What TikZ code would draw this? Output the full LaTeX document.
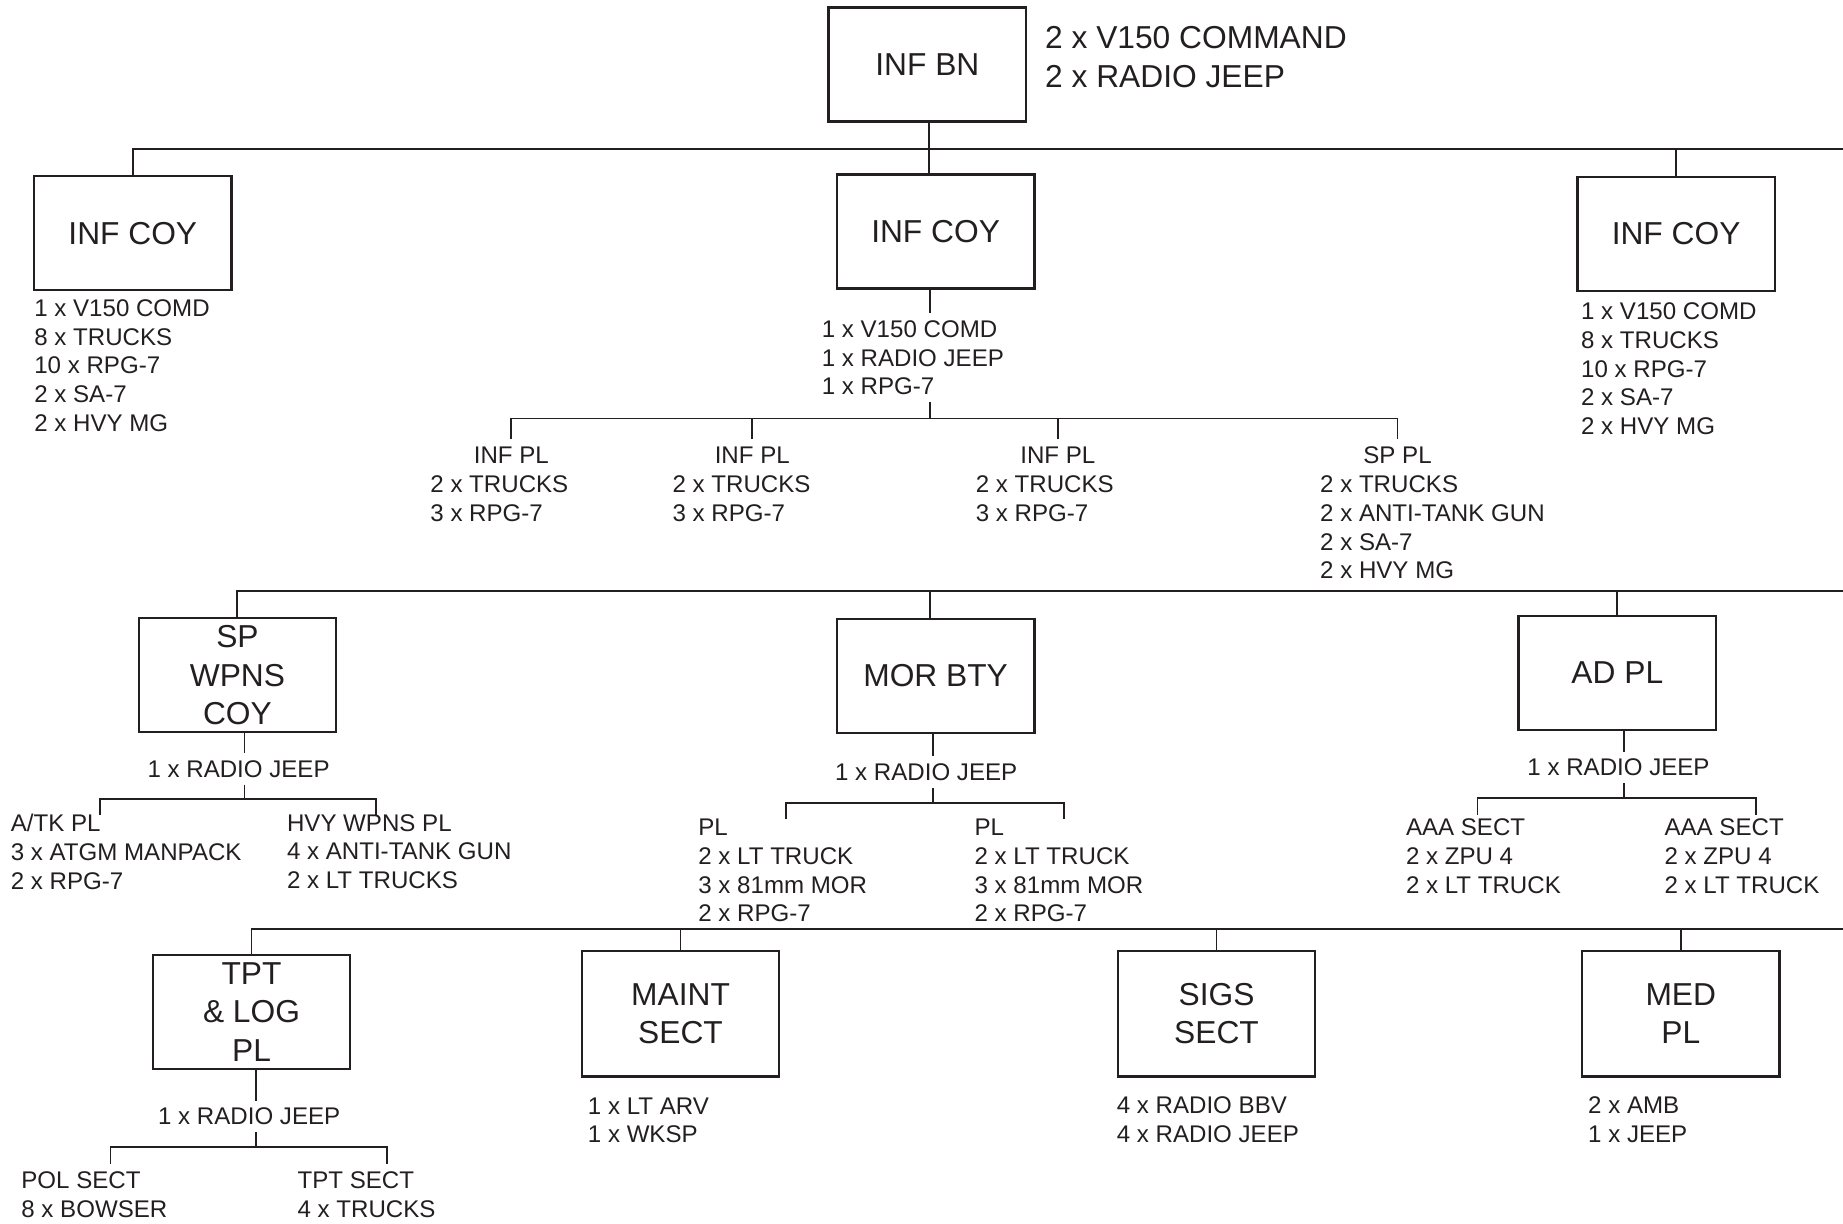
\documentclass[tikz,border=0pt]{standalone}
\usepackage{fontspec}
\setmainfont{Liberation Sans}
\usetikzlibrary{positioning}
\definecolor{ink}{RGB}{35,31,32}

\begin{document}
\begin{tikzpicture}[
        x=1pt, y=-1pt,
        unit/.style={draw=ink, line width=2pt, minimum width=168pt, minimum height=97pt, inner sep=0pt, align=center, text=ink, font=\fontsize{27}{32.5}\selectfont},
        tall/.style={unit, minimum height=107pt},
        note/.style={anchor=north west, inner sep=0pt, align=left, text=ink, font=\fontsize{27}{33}\selectfont},
        kit/.style={anchor=north west, inner xsep=0pt, inner ysep=6pt, yshift=13.3pt, align=left, text=ink, font=\fontsize{20.5}{24.4}\selectfont},
        tag/.style={inner xsep=0pt, inner ysep=6pt, text=ink, font=\fontsize{20.5}{24.4}\selectfont},
        link/.style={draw=ink, line width=1.6pt}
    ]
        \useasboundingbox (0,0) rectangle (1568,1041);

        \node[unit] (bn) at (789,55) {INF BN};
        \node[note] (bnkit) at (889,22.3) {2 x V150 COMMAND\\2 x RADIO JEEP};

        \node[unit] (coy1) at (113,198.5) {INF COY};
        \node[unit] (coy2) at (796,197) {INF COY};
        \node[unit] (coy3) at (1426,199) {INF COY};

        \node[kit] (coy1kit) at (29,262) {1 x V150 COMD\\8 x TRUCKS\\10 x RPG-7\\2 x SA-7\\2 x HVY MG};
        \node[kit] (coy2kit) at (699,280) {1 x V150 COMD\\1 x RADIO JEEP\\1 x RPG-7};
        \node[kit] (coy3kit) at (1345,265) {1 x V150 COMD\\8 x TRUCKS\\10 x RPG-7\\2 x SA-7\\2 x HVY MG};

        \node[tag] (pl1) at (435,387) {INF PL};
        \node[tag] (pl2) at (640,387) {INF PL};
        \node[tag] (pl3) at (900,387) {INF PL};
        \node[tag] (pl4) at (1189,387) {SP PL};
        \node[kit] (pl1kit) at (366,412) {2 x TRUCKS\\3 x RPG-7};
        \node[kit] (pl2kit) at (572,412) {2 x TRUCKS\\3 x RPG-7};
        \node[kit] (pl3kit) at (830,412) {2 x TRUCKS\\3 x RPG-7};
        \node[kit] (pl4kit) at (1123,412) {2 x TRUCKS\\2 x ANTI-TANK GUN\\2 x SA-7\\2 x HVY MG};

        \node[unit] (spw) at (202,574.5) {SP\\WPNS\\COY};
        \node[unit] (mor) at (796,575) {MOR BTY};
        \node[unit] (adp) at (1376,572.5) {AD PL};

        \node[tag] (spwjeep) at (203,654) {1 x RADIO JEEP};
        \node[kit] (atk) at (9,700) {A/TK PL\\3 x ATGM MANPACK\\2 x RPG-7};
        \node[kit] (hvy) at (244,700) {HVY WPNS PL\\4 x ANTI-TANK GUN\\2 x LT TRUCKS};

        \node[tag] (morjeep) at (788,657) {1 x RADIO JEEP};
        \node[kit] (mor1) at (594,704) {PL\\2 x LT TRUCK\\3 x 81mm MOR\\2 x RPG-7};
        \node[kit] (mor2) at (829,704) {PL\\2 x LT TRUCK\\3 x 81mm MOR\\2 x RPG-7};

        \node[tag] (adjeep) at (1377,653) {1 x RADIO JEEP};
        \node[kit] (aaa1) at (1196,704) {AAA SECT\\2 x ZPU 4\\2 x LT TRUCK};
        \node[kit] (aaa2) at (1416,704) {AAA SECT\\2 x ZPU 4\\2 x LT TRUCK};

        \node[unit] (tpt) at (214,861) {TPT\\\& LOG\\PL};
        \node[tall] (mnt) at (579,862.5) {MAINT\\SECT};
        \node[tall] (sig) at (1035,862.5) {SIGS\\SECT};
        \node[tall] (med) at (1430,862.5) {MED\\PL};

        \node[tag] (tptjeep) at (212,950) {1 x RADIO JEEP};
        \node[kit] (pol) at (18,1004) {POL SECT\\8 x BOWSER};
        \node[kit] (tsec) at (253,1004) {TPT SECT\\4 x TRUCKS};
        \node[kit] (mntkit) at (500,941) {1 x LT ARV\\1 x WKSP};
        \node[kit] (sigkit) at (950,940) {4 x RADIO BBV\\4 x RADIO JEEP};
        \node[kit] (medkit) at (1351,940) {2 x AMB\\1 x JEEP};

        \coordinate (bus1) at (790,127);
        \coordinate (bus1e) at (1568,127);
        \coordinate (bus2) at (791,356);
        \coordinate (bus3) at (791,503);
        \coordinate (bus3e) at (1568,503);
        \coordinate (bus4e) at (1568,790);
        \coordinate (spwbus) at (208,680);
        \coordinate (atkdrop) at (85,693);
        \coordinate (hvydrop) at (320,693);
        \coordinate (morbus) at (794,683);
        \coordinate (mor1drop) at (669,697);
        \coordinate (mor2drop) at (905,697);
        \coordinate (adpbus) at (1382,679);
        \coordinate (aaa1drop) at (1257,693);
        \coordinate (aaa2drop) at (1494,693);
        \coordinate (tptbus) at (218,976);
        \coordinate (poldrop) at (94,990);
        \coordinate (tsecdrop) at (329,990);

        \draw[link] (coy1.north) |- (bus1e);
        \draw[link] (bn.south -| bus1) -- (coy2.north -| bus1);
        \draw[link] (coy3.north) -- (coy3.north |- bus1);

        \draw[link] (coy2.south -| bus2) -- (coy2kit.north -| bus2);
        \draw[link] (coy2kit.south -| bus2) -- (bus2);
        \draw[link] (pl1.north) |- (bus2) -| (pl4.north);
        \draw[link] (pl2.north) -- (pl2.north |- bus2);
        \draw[link] (pl3.north) -- (pl3.north |- bus2);

        \draw[link] (spw.north) |- (bus3e);
        \draw[link] (mor.north -| bus3) -- (bus3);
        \draw[link] (adp.north) -- (adp.north |- bus3);

        \draw[link] (spw.south -| spwbus) -- (spwjeep.north -| spwbus);
        \draw[link] (spwjeep.south -| spwbus) -- (spwbus);
        \draw[link] (atkdrop) |- (spwbus) -| (hvydrop);

        \draw[link] (mor.south -| morbus) -- (morjeep.north -| morbus);
        \draw[link] (morjeep.south -| morbus) -- (morbus);
        \draw[link] (mor1drop) |- (morbus) -| (mor2drop);

        \draw[link] (adp.south -| adpbus) -- (adjeep.north -| adpbus);
        \draw[link] (adjeep.south -| adpbus) -- (adpbus);
        \draw[link] (aaa1drop) |- (adpbus) -| (aaa2drop);

        \draw[link] (tpt.north) |- (bus4e);
        \draw[link] (mnt.north) -- (mnt.north |- bus4e);
        \draw[link] (sig.north) -- (sig.north |- bus4e);
        \draw[link] (med.north) -- (med.north |- bus4e);

        \draw[link] (tpt.south -| tptbus) -- (tptjeep.north -| tptbus);
        \draw[link] (tptjeep.south -| tptbus) -- (tptbus);
        \draw[link] (poldrop) |- (tptbus) -| (tsecdrop);
    \end{tikzpicture}
\end{document}
